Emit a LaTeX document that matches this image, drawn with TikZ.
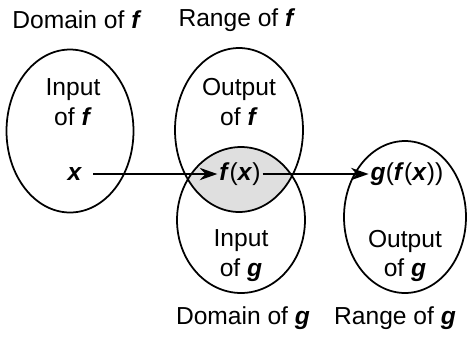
\documentclass[tikz,border=0pt]{standalone}
\usepackage{fontspec}
\setmainfont{Liberation Sans}
\usepackage{tikz}
\usetikzlibrary{arrows.meta, shapes.geometric, backgrounds}

\newcommand{\var}[1]{\textbf{\textit{#1}}}

\begin{document}
\begin{tikzpicture}[
  x=0.02cm, y=-0.02cm,
  set/.style={draw, ellipse, line width=1pt, inner sep=0pt},
  txt/.style={font=\fontsize{14}{17}\selectfont, align=center, inner sep=1pt},
  arr/.style={-{Stealth[length=10pt, width=7pt]}, line width=1.3pt}
]
  \useasboundingbox (0,0) rectangle (467,336);

  % ----- Overlap of range of f and domain of g -----
  \begin{scope}
    \clip (239,130) ellipse [x radius=64, y radius=82];
    \fill[gray!25] (241,220) ellipse [x radius=64, y radius=73];
  \end{scope}

  % ----- Sets -----
  \node[set, minimum width=2.54cm, minimum height=3.26cm] (domf) at (70,131) {};
  \node[set, minimum width=2.56cm, minimum height=3.28cm] (ranf) at (239,130) {};
  \node[set, minimum width=2.56cm, minimum height=2.92cm] (domg) at (241,220) {};
  \node[set, minimum width=2.44cm, minimum height=3.04cm] (rang) at (405,217) {};

  % ----- Set titles -----
  \node[txt] (tdomf) at (77,20)  {Domain of \var{f}};
  \node[txt] (tranf) at (237,20) {Range of \var{f}};
  \node[txt] (tdomg) at (243,318) {Domain of \var{g}};
  \node[txt] (trang) at (395,318) {Range of \var{g}};

  % ----- Set contents -----
  \node[txt] (inf)  at (73,102)  {Input\\of \var{f}};
  \node[txt] (outf) at (239,102) {Output\\of \var{f}};
  \node[txt] (ing)  at (241,256) {Input\\of \var{g}};
  \node[txt] (outg) at (405,256) {Output\\of \var{g}};

  % ----- Elements -----
  \node[txt] (x)   at (75,174)  {\var{x}};
  \node[txt] (fx)  at (240,174) {\var{f}(\var{x})};
  \node[txt] (gfx) at (407,174) {\var{g}(\var{f}(\var{x}))};

  \draw[arr, shorten <=5pt] (x.east) -- (fx.west);
  \draw[arr] (fx.east) -- (gfx.west);
\end{tikzpicture}
\end{document}
